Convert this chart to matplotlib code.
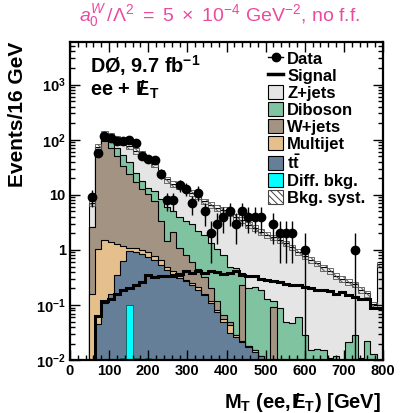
import numpy as np
import matplotlib
matplotlib.use('Agg')
import matplotlib.pyplot as plt
from matplotlib.lines import Line2D
from matplotlib.patches import Patch
from matplotlib.ticker import FixedLocator, MultipleLocator, LogLocator, NullFormatter

plt.rcParams['font.family'] = ['Liberation Sans', 'DejaVu Sans']
plt.rcParams['mathtext.fontset'] = 'custom'
plt.rcParams['mathtext.rm'] = 'Liberation Sans'
plt.rcParams['mathtext.it'] = 'Liberation Sans:italic'
plt.rcParams['mathtext.bf'] = 'Liberation Sans:bold'
plt.rcParams['hatch.linewidth'] = 0.7

# 16 GeV bins from 0 to 800 GeV (50 bins)
edges = np.arange(0, 801, 16)

data = np.array([0, 0, 0, 9, 57, 115, 107, 96, 96, 100,
                 87, 51, 45, 43, 24, 8, 8, 15, 13, 7,
                 11, 5, 2, 3, 4, 5, 3, 5, 4, 4,
                 4, 0, 3, 2, 2, 2, 0, 1, 0, 0,
                 0, 0, 0, 0, 0, 1, 0, 0, 0, 0])

ttbar = np.array([0, 0, 0, 0, 0.045, 0.11, 0.16, 0.35, 0.62, 0.95,
                  0.92, 0.85, 0.75, 0.65, 0.53, 0.44, 0.37, 0.31, 0.27, 0.23,
                  0.19, 0.15, 0.11, 0.075, 0.05, 0.031, 0.026, 0.021, 0.017, 0.014,
                  0.012, 0, 0, 0, 0, 0, 0, 0, 0, 0,
                  0, 0, 0, 0, 0, 0, 0, 0, 0, 0])

multijet = np.array([0, 0, 0, 0.16, 1.0, 1.4, 1.25, 0.95, 0.58, 0.15,
                     0.15, 0.15, 0.15, 0.13, 0.13, 0.06, 0.05, 0.03, 0.02, 0.02,
                     0.02, 0.01, 0.01, 0.005, 0.005, 0.013, 0.002, 0.001, 0.001, 0.001,
                     0, 0, 0, 0, 0, 0, 0, 0, 0, 0,
                     0, 0, 0, 0, 0, 0, 0, 0, 0, 0])

wjets = np.array([0, 0, 0, 2.44, 64, 91.5, 68.6, 49.7, 32.8, 22.9,
                  15.9, 11.6, 9.6, 7.0, 2.74, 0.95, 1.68, 0.76, 0.51, 0.35,
                  0.24, 0.16, 0.08, 0.04, 0.01, 0.006, 0, 0.208, 0, 0,
                  0, 0, 0.093, 0, 0, 0, 0, 0, 0, 0,
                  0, 0, 0, 0, 0, 0, 0, 0, 0, 0])

diboson = np.array([0, 0, 0, 0, 2, 10, 29, 21, 19, 15,
                    8, 5.4, 3, 4, 4.9, 4.45, 3.0, 2.8, 2.6, 2.3,
                    1.75, 1.58, 1.15, 0.93, 0.735, 0.45, 0.44, 0.15, 0.19, 0.196,
                    0.178, 0.13, 0.027, 0.087, 0.05, 0.047, 0.06, 0.028, 0.015, 0.016,
                    0.015, 0.011, 0.012, 0, 0.021, 0.028, 0.011, 0.022, 0.013, 0])

zjets = np.array([0, 0, 0, 4.4, 8, 27, 19, 34, 39, 39,
                  37, 37, 30.5, 25.2, 16.7, 13.1, 10.9, 10.6, 9.2, 8.1,
                  7.4, 5.7, 5.25, 4.75, 4.5, 4.1, 3.53, 3.12, 2.64, 2.29,
                  1.95, 1.73, 1.58, 1.43, 1.27, 1.07, 0.87, 0.75, 0.645, 0.554,
                  0.465, 0.4, 0.328, 0.3, 0.24, 0.21, 0.18, 0.14, 0.09, 0.55])

diffbkg = np.array([0, 0, 0, 0, 0, 0, 0, 0, 0.011, 0.1,
                    0.011, 0, 0.011, 0, 0, 0, 0, 0, 0, 0,
                    0, 0, 0, 0, 0, 0, 0, 0, 0, 0,
                    0, 0, 0, 0, 0, 0, 0, 0, 0, 0,
                    0, 0, 0, 0, 0, 0, 0, 0, 0, 0])

signal = np.array([0, 0, 0, 0, 0.062, 0.12, 0.13, 0.16, 0.19, 0.2,
                   0.23, 0.26, 0.35, 0.32, 0.34, 0.34, 0.33, 0.36, 0.41, 0.38,
                   0.42, 0.38, 0.41, 0.39, 0.37, 0.38, 0.41, 0.35, 0.33, 0.33,
                   0.30, 0.29, 0.27, 0.26, 0.24, 0.23, 0.23, 0.21, 0.2, 0.19,
                   0.19, 0.18, 0.16, 0.17, 0.15, 0.14, 0.13, 0.13, 0.09, 0.09])

syst_frac = 0.12

labels = ['Z+jets', 'Diboson', 'W+jets', 'Multijet', r'$\mathbf{t\bar{t}}$']
colors = ['#e5e5e5', '#80c3a0', '#a39382', '#e5c08c', '#667f99']

# E_T 带斜杠 (斜杠压在 E 的中间)
met = r'$\hspace{0.2}\mathbf{/}\hspace{-0.48}\mathbf{E}_\mathbf{T}$'


def draw():
    fig = plt.figure(figsize=(4, 4.13), dpi=100)
    ax = fig.add_axes([0.175, 0.128, 0.7825, 0.77])
    tiny = 1e-4

    # 堆叠本底: 从上到下依次画累积直方图
    comps = [ttbar, multijet, wjets, diboson, zjets]
    cols = colors[::-1]
    cum = np.cumsum(np.vstack(comps), axis=0)
    for i in reversed(range(len(comps))):
        vals = np.where(cum[i] > 0, cum[i], tiny)
        ax.stairs(vals, edges, baseline=tiny, fill=True, facecolor=cols[i],
                  edgecolor='black', lw=0.8)
    total = cum[-1]

    # 差分本底
    ax.stairs(np.where(diffbkg > 0, diffbkg, tiny), edges, baseline=tiny, fill=True,
              facecolor='#00ffff', edgecolor='#006060', lw=0.6)

    # 系统误差带
    m = total > 0
    ax.bar(edges[:-1][m], 2 * syst_frac * total[m], bottom=total[m] * (1 - syst_frac),
           width=16, align='edge', fill=False, hatch='\\\\\\\\\\', edgecolor='#555555', lw=0.6)

    # 信号
    ax.stairs(np.where(signal > 0, signal, tiny), edges, baseline=None, color='black', lw=2.2)

    # 数据点
    centers = 0.5 * (edges[:-1] + edges[1:])
    d = data > 0
    y = data[d].astype(float)
    err = np.sqrt(y)
    low = np.minimum(err, y - 1e-3)
    ax.errorbar(centers[d], y, yerr=[low, err], fmt='o', color='black', ms=6,
                elinewidth=1, capsize=0)

    # 坐标轴
    ax.set_xlim(0, 800)
    ax.set_yscale('log')
    ax.set_ylim(0.01, 5900)
    ax.xaxis.set_major_locator(MultipleLocator(100))
    ax.xaxis.set_minor_locator(MultipleLocator(20))
    ax.yaxis.set_major_locator(FixedLocator([1e-2, 1e-1, 1, 10, 1e2, 1e3]))
    ax.yaxis.set_minor_locator(LogLocator(base=10, subs=np.arange(2, 10)))
    ax.yaxis.set_minor_formatter(NullFormatter())
    ax.set_yticklabels([r'$\mathbf{10^{-2}}$', r'$\mathbf{10^{-1}}$', '1', '10',
                        r'$\mathbf{10^{2}}$', r'$\mathbf{10^{3}}$'])
    for t in ax.get_xticklabels() + ax.get_yticklabels():
        t.set_fontweight('bold')
        t.set_fontsize(10.5)
    ax.tick_params(which='both', direction='in', top=True, right=True, width=1)
    ax.tick_params(which='major', length=7, pad=3)
    ax.tick_params(which='minor', length=3.5)
    for s in ax.spines.values():
        s.set_linewidth(1.6)

    # 文字
    fig.text(18 / 400, 1 - 42 / 413, 'Events/16 GeV', rotation=90, ha='center', va='top',
             fontsize=15, fontweight='bold')
    fig.text(381 / 400, 1 - 403 / 413, r'M$_\mathbf{T}$ (ee,' + met + ') [GeV]',
             ha='right', va='center', fontsize=14.5, fontweight='bold')
    fig.text(90 / 400, 1 - 66 / 413, r'DØ, 9.7 fb$^{\mathbf{-1}}$', ha='left', va='center',
             fontsize=14.3, fontweight='bold')
    fig.text(90 / 400, 1 - 90 / 413, 'ee + ' + met,
             ha='left', va='center', fontsize=14.3, fontweight='bold')
    fig.text(220 / 400, 1 - 16 / 413,
             r'$a_0^W\,/\Lambda^2\ =\ 5\ \times\ 10^{-4}$ GeV$^{-2}$, no f.f.',
             ha='center', va='center', fontsize=14, color='#ea4a9f')

    # 图例
    handles = [Line2D([], [], color='black', marker='o', ms=6, lw=1),
               Line2D([], [], color='black', lw=2.5)]
    for lab, c in zip(labels, colors):
        handles.append(Patch(facecolor=c, edgecolor='black', lw=0.8))
    handles.append(Patch(facecolor='#00ffff', edgecolor='black', lw=0.8))
    handles.append(Patch(facecolor='white', edgecolor='#444444', hatch='\\\\\\\\\\', lw=0.8))
    names = ['Data', 'Signal'] + labels + ['Diff. bkg.', 'Bkg. syst.']
    fig.legend(handles, names, loc='upper left', bbox_to_anchor=(268 / 400, 1 - 51 / 413),
               frameon=False, handlelength=0.9, handleheight=0.9, handletextpad=0.25,
               labelspacing=0.08, borderpad=0, borderaxespad=0,
               prop={'weight': 'bold', 'size': 12})

    plt.savefig('out.png', dpi=100)


if __name__ == '__main__':
    draw()
